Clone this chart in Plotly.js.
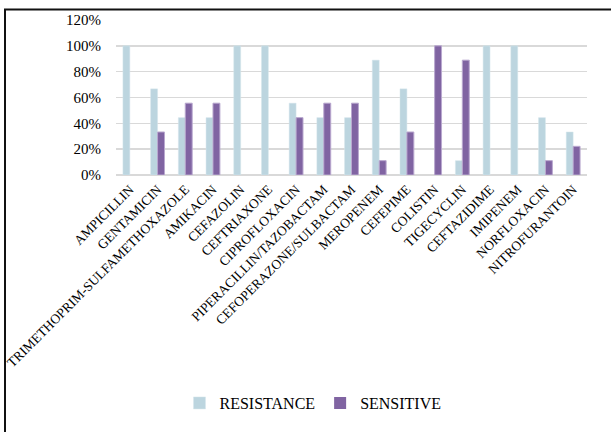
<!DOCTYPE html>
<html>
<head>
<meta charset="utf-8">
<script src="https://cdn.plot.ly/plotly-3.0.1.min.js"></script>
<style>
  html, body { margin: 0; padding: 0; background: #fff; }
  #chart { width: 611px; height: 432px; }
</style>
</head>
<body>
<div id="chart"></div>
<script>
// Antibiotic susceptibility profile (share of isolates)
const antibiotics = [
  "AMPICILLIN", "GENTAMICIN", "TRIMETHOPRIM-SULFAMETHOXAZOLE", "AMIKACIN",
  "CEFAZOLIN", "CEFTRIAXONE", "CIPROFLOXACIN", "PIPERACILLIN/TAZOBACTAM",
  "CEFOPERAZONE/SULBACTAM", "MEROPENEM", "CEFEPIME", "COLISTIN",
  "TIGECYCLIN", "CEFTAZIDIME", "IMIPENEM", "NORFLOXACIN", "NITROFURANTOIN"
];
const resistance = [1.0, 0.667, 0.444, 0.444, 1.0, 1.0, 0.556, 0.444, 0.444, 0.889, 0.667, 0.0, 0.111, 1.0, 1.0, 0.444, 0.333];
const sensitive  = [0.0, 0.333, 0.556, 0.556, 0.0, 0.0, 0.444, 0.556, 0.556, 0.111, 0.333, 1.0, 0.889, 0.0, 0.0, 0.111, 0.222];
const yTickVals  = [0, 0.2, 0.4, 0.6, 0.8, 1.0, 1.2];
const yTickText  = ["0%", "20%", "40%", "60%", "80%", "100%", "120%"];

const serif = "Liberation Serif";

// plot area in pixels: x 116..587, y 20..175
const L = 116, R = 587, T = 20, B = 175;
const px = v => (v - L) / (R - L);
const py = v => (B - v) / (B - T);

// no outline on empty bars
const edge = (vals, w) => vals.map(v => (v > 0 ? w : 0));

const traces = [
  {
    type: "bar", name: "RESISTANCE", x: antibiotics, y: resistance,
    marker: { color: "#bcd5df", line: { color: "#d6e6ec", width: edge(resistance, 0.5) } },
    hoverinfo: "x+y"
  },
  {
    type: "bar", name: "SENSITIVE", x: antibiotics, y: sensitive,
    marker: { color: "#8064a2", line: { color: "#b9a8cf", width: edge(sensitive, 1) } },
    hoverinfo: "x+y"
  }
];

const layout = {
  width: 611, height: 432,
  margin: { l: L, r: 611 - R, t: T, b: 432 - B, pad: 0 },
  paper_bgcolor: "#ffffff", plot_bgcolor: "#ffffff",
  font: { family: serif, color: "#000" },
  barmode: "group", bargap: 0.5, bargroupgap: 0,
  showlegend: true,
  legend: {
    orientation: "h", x: px(313), xanchor: "center", y: py(403), yanchor: "middle",
    font: { family: serif, size: 16, color: "#000" },
    itemwidth: 30, traceorder: "normal"
  },
  xaxis: {
    type: "category", tickangle: -45, showgrid: false, zeroline: false,
    showline: false, ticks: "", ticklabelstandoff: 3,
    tickfont: { family: serif, size: 13.5, color: "#000" },
    automargin: false
  },
  yaxis: {
    range: [0, 1.2], tickvals: yTickVals, ticktext: yTickText,
    showgrid: true, gridcolor: "#d9d9d9", gridwidth: 1.5,
    zeroline: true, zerolinecolor: "#d9d9d9", zerolinewidth: 1.5,
    showline: false, ticks: "", ticklabelstandoff: 14,
    tickfont: { family: serif, size: 15, color: "#000" },
    automargin: false
  },
  shapes: [
    {
      type: "rect", xref: "paper", yref: "paper", layer: "above",
      x0: px(5), x1: px(640), y0: py(9.5), y1: py(460),
      line: { color: "#111", width: 2 }, fillcolor: "rgba(0,0,0,0)"
    }
  ]
};

Plotly.newPlot("chart", traces, layout, { displayModeBar: false, staticPlot: true });
</script>
</body>
</html>
